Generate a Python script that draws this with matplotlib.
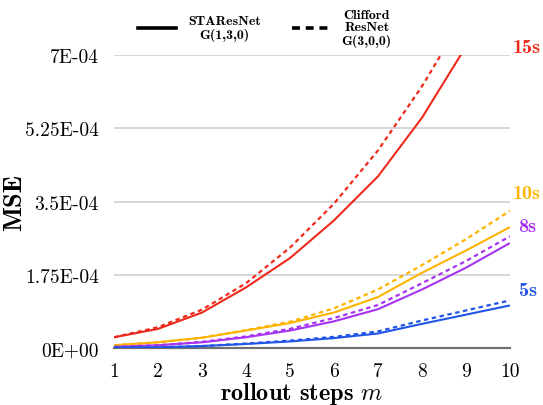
import numpy as np
import matplotlib
matplotlib.use("Agg")
import matplotlib.pyplot as plt
from matplotlib.lines import Line2D

plt.rcParams["mathtext.fontset"] = "cm"

# rollout steps
steps = [1, 2, 3, 4, 5, 6, 7, 8, 9, 10]

# MSE (x1e-4) for each horizon; sta = STAResNet G(1,3,0), cl = Clifford ResNet G(3,0,0)
sta_15s = [0.26, 0.46, 0.85, 1.45, 2.15, 3.05, 4.10, 5.50, 7.20, 9.00]
cl_15s = [0.26, 0.50, 0.92, 1.55, 2.40, 3.45, 4.72, 6.25, 8.00, 9.90]
sta_10s = [0.07, 0.14, 0.25, 0.42, 0.60, 0.85, 1.22, 1.80, 2.33, 2.89]
cl_10s = [0.07, 0.14, 0.25, 0.43, 0.63, 0.95, 1.40, 1.98, 2.60, 3.28]
sta_8s = [0.03, 0.07, 0.14, 0.26, 0.42, 0.64, 0.93, 1.40, 1.92, 2.51]
cl_8s = [0.03, 0.07, 0.15, 0.28, 0.46, 0.72, 1.03, 1.55, 2.08, 2.67]
sta_5s = [0.01, 0.02, 0.05, 0.10, 0.16, 0.24, 0.35, 0.58, 0.80, 1.02]
cl_5s = [0.01, 0.02, 0.05, 0.11, 0.18, 0.27, 0.40, 0.66, 0.90, 1.14]

yticks = [0, 1.75e-4, 3.5e-4, 5.25e-4, 7e-4]
ytick_labels = ["0E+00", "1.75E-04", "3.5E-04", "5.25E-04", "7E-04"]

series = [
    ("15s", sta_15s, cl_15s, "#ee2a1c"),
    ("10s", sta_10s, cl_10s, "#fdb300"),
    ("8s", sta_8s, cl_8s, "#a533ef"),
    ("5s", sta_5s, cl_5s, "#2155e6"),
]
# where the horizon tag sits (axes fraction)
tag_pos = {"15s": (1.007, 1.027), "10s": (1.007, 0.53), "8s": (1.022, 0.418),
           "5s": (1.022, 0.20)}

fig = plt.figure(figsize=(5.43, 4.06), dpi=100)
ax = fig.add_axes([0.21, 0.140, 0.729, 0.722])

for tag, sta, cl, color in series:
    ax.plot(steps, np.array(sta) * 1e-4, color=color, lw=1.5, solid_capstyle="butt")
    ax.plot(steps, np.array(cl) * 1e-4, color=color, lw=1.6,
            linestyle=(0, (2.0, 1.6)))
    x, y = tag_pos[tag]
    ax.text(x, y, tag, transform=ax.transAxes, color=color, fontsize=14.5,
            family="cmb10", ha="left", va="center", clip_on=False)

ax.set_xlim(1, 10)
ax.set_ylim(0, 7e-4)
ax.set_xticks(steps)
ax.set_xticklabels([str(s) for s in steps], family="cmr10", fontsize=14)
ax.set_yticks(yticks)
ax.set_yticklabels(ytick_labels, family="cmr10", fontsize=14)
ax.tick_params(axis="x", length=0, pad=10)
ax.tick_params(axis="y", length=0, pad=11)
ax.grid(axis="y", color="#d0d0d0", lw=1.2)
ax.set_axisbelow(True)
for side in ("top", "right", "left"):
    ax.spines[side].set_visible(False)
ax.spines["bottom"].set_color("#707070")
ax.spines["bottom"].set_linewidth(1.6)
ax.spines["bottom"].set_zorder(1)

ax.set_xlabel(r"rollout steps $m$", family="cmb10", fontsize=17.5)
ax.xaxis.set_label_coords(0.475, -0.108)
ax.set_ylabel("MSE", family="cmb10", fontsize=19)
ax.yaxis.set_label_coords(-0.222, 0.5)

handles = [Line2D([], [], color="black", lw=2.6),
           Line2D([], [], color="black", lw=2.6, linestyle=(0, (2.2, 1.6)))]
labels = ["STAResNet\nG(1,3,0)", "Clifford\nResNet\nG(3,0,0)"]
leg = fig.legend(handles, labels, loc="center", ncol=2, frameon=False,
                 bbox_to_anchor=(265 / 543, 1 - 29 / 406),
                 prop={"family": "cmb10", "size": 10},
                 handlelength=2.7, columnspacing=2.2, handletextpad=0.9,
                 labelspacing=0.2)
for t in leg.get_texts():
    t.set_multialignment("center")
    t.set_linespacing(1.05)

fig.savefig("out.png", dpi=100)
